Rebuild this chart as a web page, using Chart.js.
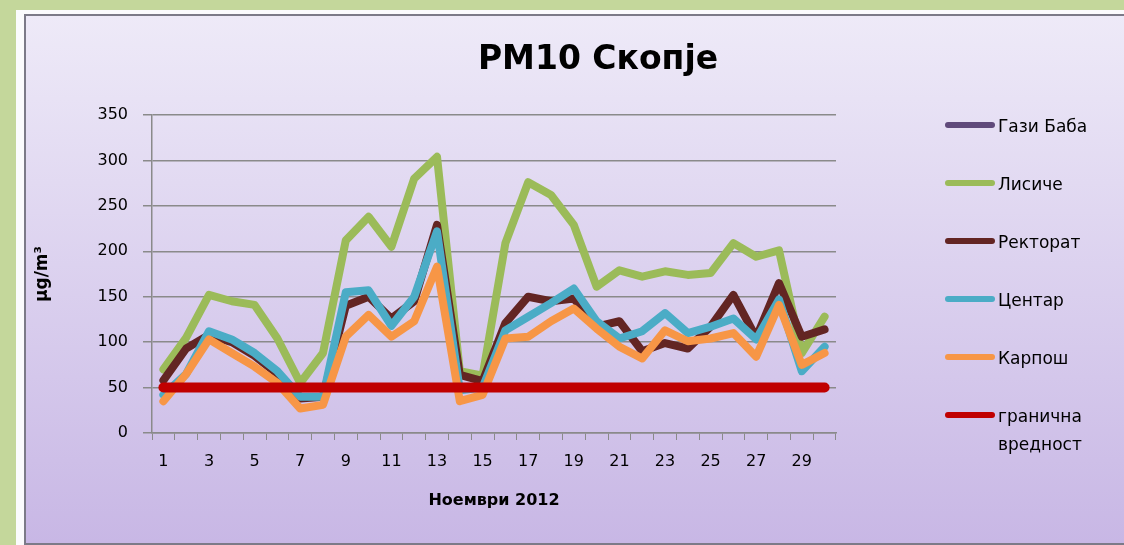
<!DOCTYPE html>
<html>
<head>
<meta charset="utf-8">
<script src="https://cdn.jsdelivr.net/npm/chart.js@4.4.1/dist/chart.umd.min.js"></script>
<style>
  html, body { margin: 0; padding: 0; }
  body { width: 1124px; height: 545px; background: #c4d79b; position: relative; overflow: hidden; font-family: "DejaVu Sans", sans-serif; }
  #white { position: absolute; left: 16px; top: 10px; right: 0; bottom: 0; background: #fbfbfd; }
  #panel { position: absolute; left: 24px; top: 14px; right: -4px; bottom: 0; border: 2px solid #7c7a88; background: linear-gradient(#eeeaf8, #c8b7e5); }
  #chart { position: absolute; left: 0; top: 0; }
  #title { position: absolute; left: 420px; width: 356px; top: 38px; text-align: center; font-size: 33px; font-weight: bold; color: #000; }
  #legend { position: absolute; left: 945px; top: 112px; }
  .item { position: relative; height: 58px; }
  .swatch { position: absolute; left: 0; top: 10px; width: 50px; height: 6px; border-radius: 3px; }
  .label { position: absolute; left: 53px; top: 0; width: 110px; font-size: 17px; line-height: 28px; color: #000; }
</style>
</head>
<body>
<div id="white"></div>
<div id="panel"></div>
<canvas id="chart" width="1124" height="545"></canvas>
<div id="title">PM10 Скопје</div>
<div id="legend"></div>
<script>
// days of November 2012
const days = ["1","2","3","4","5","6","7","8","9","10","11","12","13","14","15",
  "16","17","18","19","20","21","22","23","24","25","26","27","28","29","30"];

// PM10 values, µg/m3
const gaziBaba = new Array(30).fill(null); // no readings visible
const lisice = [70, 105, 152, 145, 141, 104, 55, 88, 212, 238, 205, 280, 304, 68, 63,
  209, 276, 262, 229, 161, 179, 172, 178, 174, 176, 209, 194, 201, 88, 128];
const rektorat = [58, 93, 108, 100, 85, 65, 38, 40, 140, 150, 126, 145, 229, 64, 57,
  121, 150, 145, 148, 117, 123, 90, 99, 93, 117, 152, 105, 165, 106, 114];
const centar = [42, 65, 112, 103, 88, 68, 40, 40, 155, 157, 118, 150, 222, 47, 50,
  113, 128, 143, 159, 123, 104, 112, 132, 110, 117, 126, 103, 147, 68, 95];
const karpos = [35, 65, 103, 88, 73, 55, 27, 31, 106, 130, 106, 123, 183, 35, 42,
  104, 106, 123, 137, 115, 95, 82, 113, 101, 104, 110, 84, 141, 75, 88];
const limit = new Array(30).fill(50);

const yTicks = [0, 50, 100, 150, 200, 250, 300, 350];

const series = [
  { label: "Гази Баба", data: gaziBaba, color: "#604a7b", width: 8 },
  { label: "Лисиче", data: lisice, color: "#9bbb59", width: 8 },
  { label: "Ректорат", data: rektorat, color: "#632523", width: 8 },
  { label: "Центар", data: centar, color: "#4bacc6", width: 8 },
  { label: "Карпош", data: karpos, color: "#f79646", width: 8 },
  { label: "гранична вредност", data: limit, color: "#c00000", width: 10 },
];

const font = "DejaVu Sans";

// later series drawn on top, like the original
const datasets = series.map((s, i) => ({
  label: s.label,
  data: s.data,
  borderColor: s.color,
  backgroundColor: s.color,
  borderWidth: s.width,
  borderJoinStyle: "round",
  borderCapStyle: "round",
  pointRadius: 0,
  tension: 0,
  order: series.length - i,
}));

new Chart(document.getElementById("chart"), {
  type: "line",
  data: { labels: days, datasets: datasets },
  options: {
    responsive: false,
    animation: false,
    layout: { padding: { left: 30, top: 115, right: 288, bottom: 35 } },
    plugins: {
      legend: { display: false },
      tooltip: { enabled: false },
    },
    scales: {
      x: {
        offset: true,
        grid: { offset: true, drawOnChartArea: false, color: "#8a8a8a", tickLength: 7, lineWidth: 1 },
        border: { color: "#8a8a8a", width: 1.5 },
        ticks: {
          autoSkip: false,
          maxRotation: 0,
          padding: 12,
          color: "#000",
          font: { family: font, size: 16 },
          callback: (v, i) => (i % 2 === 0 ? days[i] : ""),
        },
        title: { display: true, text: "Ноември 2012", color: "#000", padding: 0,
          font: { family: font, size: 16, weight: "bold" } },
        afterFit: (s) => { s.height = 77; },
      },
      y: {
        min: 0,
        max: 350,
        afterBuildTicks: (s) => { s.ticks = yTicks.map((v) => ({ value: v })); },
        grid: { color: "#8a8a8a", lineWidth: 1.5, tickLength: 9 },
        border: { color: "#8a8a8a", width: 1.5 },
        ticks: { padding: 15, color: "#000", font: { family: font, size: 16 } },
        title: { display: true, text: "µg/m³", color: "#000", padding: { top: 2, bottom: 0 },
          font: { family: font, size: 17, weight: "bold" } },
        afterFit: (s) => { s.width = 122; },
      },
    },
  },
});

// legend built from the same series
const legend = document.getElementById("legend");
series.forEach((s) => {
  const item = document.createElement("div");
  item.className = "item";
  const sw = document.createElement("div");
  sw.className = "swatch";
  sw.style.background = s.color;
  const lb = document.createElement("div");
  lb.className = "label";
  lb.textContent = s.label;
  item.appendChild(sw);
  item.appendChild(lb);
  legend.appendChild(item);
});
</script>
</body>
</html>
